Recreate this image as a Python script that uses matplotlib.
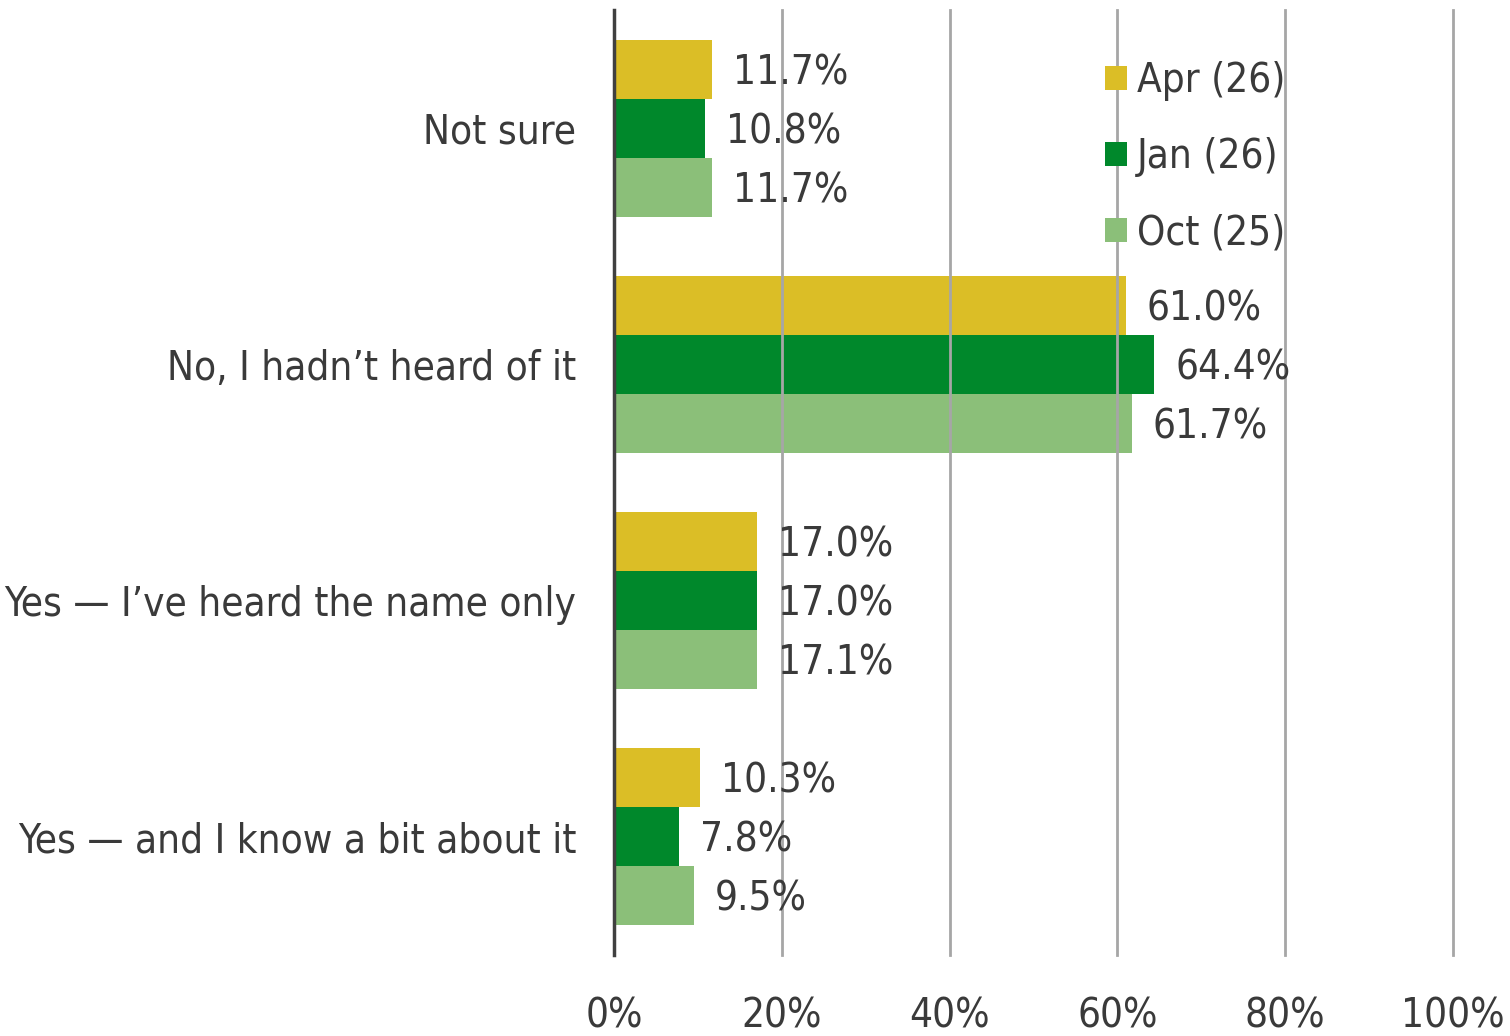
import matplotlib
matplotlib.use("Agg")
import matplotlib.pyplot as plt
from matplotlib.patches import Patch
import numpy as np

categories = ["Not sure", "No, I hadn\u2019t heard of it",
              "Yes \u2014 I\u2019ve heard the name only",
              "Yes \u2014 and I know a bit about it"]
series = ["Apr (26)", "Jan (26)", "Oct (25)"]
apr = [11.7, 61.0, 17.0, 10.3]
jan = [10.8, 64.4, 17.0, 7.8]
oct_ = [11.7, 61.7, 17.1, 9.5]
xticks = [0, 20, 40, 60, 80, 100]
xtick_labels = ["0%", "20%", "40%", "60%", "80%", "100%"]

colors = ["#DBBE26", "#00882B", "#8BBF79"]
text_color = "#3A3A3A"

plt.rcParams["font.family"] = ["DejaVu Sans"]
plt.rcParams["font.stretch"] = "condensed"
fs = 29

fig = plt.figure(figsize=(15.1, 10.36), dpi=100)
ax = fig.add_axes([0.4066, 0.0782, 0.5556, 0.9121])

bar_h = 0.25
y = np.arange(len(categories))
for i, (vals, col) in enumerate(zip([apr, jan, oct_], colors)):
    pos = y - bar_h + i * bar_h
    ax.barh(pos, vals, height=bar_h, color=col, zorder=2)
    for p, v in zip(pos, vals):
        ax.annotate(f"{v:.1f}%", (v, p), xytext=(21, -4), textcoords="offset pixels",
                    ha="left", va="center", fontsize=fs, color=text_color, zorder=4)

ax.set_xlim(0, 100)
ax.set_ylim(3.5, -0.5)
ax.set_xticks(xticks)
ax.set_xticklabels(xtick_labels)
ax.set_yticks(y)
ax.set_yticklabels(categories)
ax.tick_params(axis="both", length=0, labelsize=fs, labelcolor=text_color)
ax.tick_params(axis="x", pad=30)
ax.tick_params(axis="y", pad=27)

ax.grid(axis="y", visible=False)
for xv in xticks[1:]:
    ax.axvline(xv, color="#A6A6A6", linewidth=2, zorder=3, clip_on=False)
for s in ["top", "right", "bottom"]:
    ax.spines[s].set_visible(False)
ax.spines["left"].set_color("#404040")
ax.spines["left"].set_linewidth(2.5)
ax.spines["left"].set_zorder(5)

handles = [Patch(facecolor=c, edgecolor="none") for c in colors]
leg = ax.legend(handles, series, loc="upper left",
                bbox_to_anchor=((1105 - 614) / 839, (955 - 61) / 945),
                borderpad=0, borderaxespad=0, frameon=False, fontsize=fs,
                handlelength=0.55, handleheight=0.55,
                handletextpad=0.25, labelspacing=0.9, labelcolor=text_color)
leg.set_zorder(6)

fig.savefig("out.png", dpi=100)
